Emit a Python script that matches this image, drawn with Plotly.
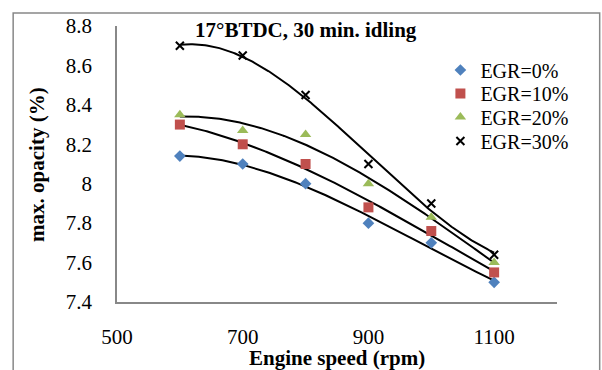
import numpy as np
import plotly.graph_objects as go

speed = [600, 700, 800, 900, 1000, 1100]
egr0 = [8.14, 8.10, 8.00, 7.80, 7.70, 7.50]
egr10 = [8.30, 8.20, 8.10, 7.88, 7.76, 7.55]
egr20 = [8.35, 8.27, 8.25, 8.00, 7.83, 7.60]
egr30 = [8.70, 8.65, 8.45, 8.10, 7.90, 7.64]
names = ["EGR=0%", "EGR=10%", "EGR=20%", "EGR=30%"]
x_ticks = [500, 700, 900, 1100]
y_ticks = [7.4, 7.6, 7.8, 8.0, 8.2, 8.4, 8.6, 8.8]
y_tick_text = ["7.4", "7.6", "7.8", "8", "8.2", "8.4", "8.6", "8.8"]

series = [egr0, egr10, egr20, egr30]
styles = [
    dict(symbol="diamond", color="#4F81BD", size=9),
    dict(symbol="square", color="#C0504D", size=10),
    dict(symbol="triangle-up", color="#9BBB59", size=10),
    dict(symbol="x-thin", color="#000000", size=8, line=dict(width=2, color="#000000")),
]
legend_ids = ["legend", "legend2", "legend3", "legend4"]
legend_y = [0.8406, 0.7554, 0.6703, 0.5833]

FONT = "Liberation Serif"
fig = go.Figure()

xs = np.linspace(min(speed), max(speed), 200)
for vals in series:
    coef = np.polyfit(speed, vals, 3)
    fig.add_trace(go.Scatter(x=xs, y=np.polyval(coef, xs), mode="lines",
                             line=dict(color="black", width=2), showlegend=False,
                             hoverinfo="skip"))

for vals, name, st, lid in zip(series, names, styles, legend_ids):
    m = dict(symbol=st["symbol"], color=st["color"], size=st["size"])
    if "line" in st:
        m["line"] = st["line"]
    fig.add_trace(go.Scatter(x=speed, y=vals, mode="markers", name=name, marker=m,
                             legend=lid))

legend_common = dict(x=0.735, xanchor="left", yanchor="middle",
                     font=dict(family=FONT, size=20), bgcolor="rgba(0,0,0,0)",
                     itemwidth=30)
legend_layout = {lid: dict(y=ly, **legend_common) for lid, ly in zip(legend_ids, legend_y)}

fig.update_layout(
    width=602, height=370,
    margin=dict(l=117, r=45, t=26, b=68),
    paper_bgcolor="white", plot_bgcolor="white",
    font=dict(family=FONT, size=21, color="black"),
    showlegend=True,
    xaxis=dict(range=[500, 1200], tickvals=x_ticks, showgrid=False, zeroline=False,
               showline=True, linecolor="#888888", linewidth=1.5, ticks="",
               automargin=False,
               ticklabelstandoff=15, tickfont=dict(family=FONT, size=21)),
    yaxis=dict(range=[7.4, 8.8], tickvals=y_ticks, ticktext=y_tick_text, showgrid=False,
               zeroline=False, showline=True, linecolor="#888888", linewidth=1.5, ticks="",
               automargin=False,
               ticklabelstandoff=19, tickfont=dict(family=FONT, size=21)),
    annotations=[
        dict(text="<b>17°BTDC, 30 min. idling</b>", xref="paper", yref="paper",
             x=0.43, y=0.985, xanchor="center", yanchor="middle", showarrow=False,
             font=dict(family=FONT, size=21)),
        dict(text="<b>Engine speed (rpm)</b>", xref="paper", yref="paper",
             x=0.5, y=-0.204, xanchor="center", yanchor="middle", showarrow=False,
             font=dict(family=FONT, size=21)),
        dict(text="<b>max. opacity (%)</b>", xref="paper", yref="paper",
             x=-0.182, y=0.5, xanchor="center", yanchor="middle", showarrow=False,
             textangle=-90, font=dict(family=FONT, size=21)),
    ],
    shapes=[dict(type="rect", xref="paper", yref="paper", x0=-0.236, x1=1.097,
                 y0=-0.3, y1=1.047, line=dict(color="#888888", width=1.5),
                 fillcolor="rgba(0,0,0,0)", layer="below")],
    **legend_layout,
)

fig.write_html("out.html")
